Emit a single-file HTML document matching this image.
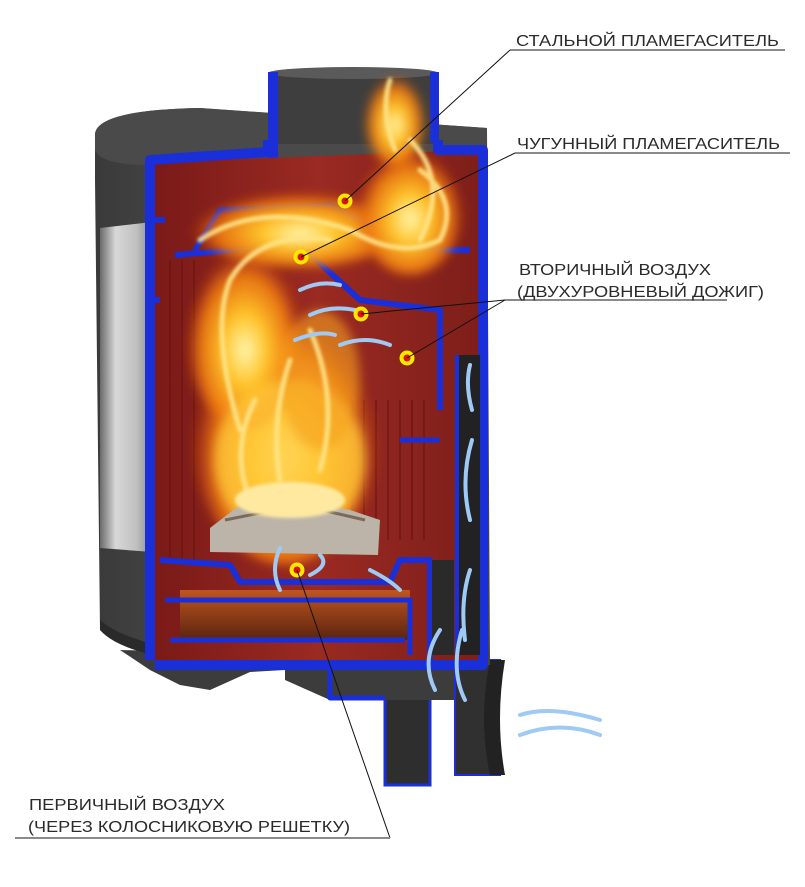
<!DOCTYPE html>
<html><head><meta charset="utf-8"><style>
html,body{margin:0;padding:0;background:#fff;}
svg{display:block;}
text{font-family:"Liberation Sans",sans-serif;font-size:15.5px;fill:#2b2b2b;}
</style></head><body>
<svg width="805" height="887" viewBox="0 0 805 887" xmlns="http://www.w3.org/2000/svg">
<defs>
<linearGradient id="body" x1="0" x2="1"><stop offset="0" stop-color="#3a3a3a"/><stop offset=".5" stop-color="#555"/><stop offset="1" stop-color="#444"/></linearGradient>
<linearGradient id="glass" x1="0" x2="1"><stop offset="0" stop-color="#6a6a6a"/><stop offset=".3" stop-color="#d8d8d8"/><stop offset=".7" stop-color="#c0c0c0"/><stop offset="1" stop-color="#8a8a8a"/></linearGradient>
<linearGradient id="red" x1="0" x2="1"><stop offset="0" stop-color="#7a1a18"/><stop offset=".5" stop-color="#9a2a22"/><stop offset="1" stop-color="#7e1e1a"/></linearGradient>
<linearGradient id="ash" x1="0" y1="0" x2="0" y2="1"><stop offset="0" stop-color="#c0561e"/><stop offset="1" stop-color="#5a2410"/></linearGradient>
<radialGradient id="fire" cx=".5" cy=".6" r=".5"><stop offset="0" stop-color="#fff6b0"/><stop offset=".35" stop-color="#ffc52a"/><stop offset=".75" stop-color="#f07a10" stop-opacity=".9"/><stop offset="1" stop-color="#d04a10" stop-opacity="0"/></radialGradient>
<filter id="bl"><feGaussianBlur stdDeviation="5"/></filter>
<filter id="bl2"><feGaussianBlur stdDeviation="1.5"/></filter>
</defs>

<!-- base pedestal -->
<path d="M285 650 L480 650 L480 700 L430 700 L430 785 L385 785 L385 700 L330 700 L285 680 Z" fill="#3c3c3c"/>
<path d="M385 700 L385 785 L430 785 L430 700" fill="#2e2e2e" stroke="#1a2fd8" stroke-width="3"/>
<path d="M455 660 L500 660 Q490 720 500 775 L455 775 Z" fill="#303030" stroke="#1a2fd8" stroke-width="2"/>
<path d="M490 660 Q478 720 490 775 L505 775 Q495 720 505 660 Z" fill="#222"/>
<path d="M120 650 L320 655 L320 668 L250 672 L210 690 L180 685 L150 670 Z" fill="#3c3c3c"/>

<!-- body -->
<path d="M95 135 Q95 110 200 108 L487 128 L490 665 L300 665 Q140 668 100 630 L95 180 Z" fill="url(#body)"/>
<path d="M95 135 Q95 110 200 108 L487 128 L487 150 L150 165 Q100 165 95 150 Z" fill="#4a4a4a"/>
<path d="M100 228 L152 222 L152 552 L100 548 Z" fill="url(#glass)"/>
<path d="M100 620 Q140 655 290 660 L290 668 Q130 665 100 630 Z" fill="#2a2a2a"/>

<!-- flue -->
<rect x="268" y="72" width="170" height="72" fill="#3e3e3e"/>
<ellipse cx="353" cy="73" rx="85" ry="6" fill="#5a5a5a"/>
<rect x="268" y="72" width="10" height="90" fill="#1a2fd8"/>
<rect x="430" y="72" width="9" height="70" fill="#1a2fd8"/>

<!-- interior -->
<path d="M155 162 L480 150 L478 660 L155 660 Z" fill="url(#red)"/>
<path d="M180 590 L410 590 L410 640 L180 640 Z" fill="url(#ash)"/>
<g stroke="#6a1410" stroke-width="2" opacity=".6">
<line x1="340" y1="400" x2="340" y2="540"/><line x1="352" y1="400" x2="352" y2="540"/><line x1="364" y1="400" x2="364" y2="540"/><line x1="376" y1="400" x2="376" y2="540"/><line x1="388" y1="400" x2="388" y2="540"/><line x1="400" y1="400" x2="400" y2="540"/><line x1="412" y1="400" x2="412" y2="540"/><line x1="424" y1="400" x2="424" y2="540"/>
<line x1="170" y1="260" x2="170" y2="560"/><line x1="182" y1="260" x2="182" y2="560"/><line x1="194" y1="260" x2="194" y2="560"/>
</g>

<!-- blue cut outline -->
<g fill="none" stroke="#1a2fd8" stroke-linejoin="round">
<path d="M150 660 L150 160 L268 152 L268 140 M438 140 L438 150 L483 150 L483 665 L155 665" stroke-width="10"/>
<path d="M195 250 L220 210 L330 205 L420 250 L470 250" stroke-width="6"/>
<path d="M175 255 L300 245 L360 300 L440 310 L440 410" stroke-width="6"/>
<path d="M160 560 L230 565 L240 582 L390 582 L400 560 L430 560 L430 660" stroke-width="6"/>
<path d="M165 600 L410 600 L410 655 M170 640 L405 640" stroke-width="5"/>
<path d="M290 665 L480 665 M330 665 L330 698 L385 698" stroke-width="5"/>
<path d="M400 440 L440 440" stroke-width="5"/>
<path d="M150 220 L165 220 M150 300 L160 300" stroke-width="6"/>
</g>
<rect x="457" y="355" width="23" height="300" fill="#222"/>
<rect x="455" y="355" width="4" height="300" fill="#1a2fd8"/>
<rect x="432" y="560" width="22" height="95" fill="#2a2a2a"/>

<!-- fire -->
<g filter="url(#bl)">
<ellipse cx="285" cy="430" rx="95" ry="135" fill="url(#fire)"/>
<ellipse cx="245" cy="330" rx="60" ry="100" fill="url(#fire)"/>
<ellipse cx="300" cy="225" rx="110" ry="42" fill="url(#fire)"/>
<ellipse cx="410" cy="205" rx="55" ry="70" fill="url(#fire)"/>
<ellipse cx="395" cy="115" rx="32" ry="50" fill="url(#fire)"/>
<ellipse cx="290" cy="460" rx="75" ry="80" fill="#ffc83a" opacity=".75"/>
<ellipse cx="320" cy="380" rx="40" ry="70" fill="#f5a020" opacity=".6"/>
</g>
<g fill="none" stroke="#ffe58a" stroke-width="5" stroke-linecap="round" filter="url(#bl2)" opacity=".9">
<path d="M240 430 Q210 330 230 280 Q260 230 330 240"/>
<path d="M200 240 Q260 200 350 230 Q400 260 440 240 Q460 200 420 170"/>
<path d="M395 150 Q380 110 390 80"/>
<path d="M280 480 Q270 420 290 360"/>
<path d="M320 470 Q340 400 310 330"/>
<path d="M250 500 Q230 450 255 400"/>
<path d="M420 240 Q450 180 410 140"/>
</g>
<!-- logs -->
<path d="M210 528 L240 505 L300 500 L350 510 L380 520 L378 555 L210 552 Z" fill="#bcb4a8"/>
<path d="M225 520 L300 505 L365 520" stroke="#7a6a5a" stroke-width="3" fill="none"/>
<ellipse cx="290" cy="500" rx="55" ry="18" fill="#ffe9a0" filter="url(#bl2)"/>

<!-- air arrows -->
<g fill="none" stroke="#9fcaf5" stroke-width="4" stroke-linecap="round">
<path d="M465 640 Q460 600 470 570"/><path d="M470 520 Q460 480 472 440"/><path d="M472 410 Q465 385 470 365"/>
<path d="M435 690 Q420 660 440 630"/><path d="M465 700 Q450 670 462 630"/>
<path d="M520 715 Q550 705 600 720"/><path d="M520 735 Q560 720 600 735"/>
<path d="M370 570 Q390 580 400 590"/><path d="M310 575 Q330 565 320 555"/><path d="M280 590 Q270 570 280 548"/>
<path d="M300 290 Q320 280 340 285"/><path d="M310 315 Q330 305 355 310"/><path d="M295 340 Q320 330 335 335"/><path d="M340 345 Q365 335 390 345"/>
</g>

<!-- dots -->
<g>
<circle cx="345" cy="201" r="7.5" fill="#ffe800"/><circle cx="345" cy="201" r="3.5" fill="#e01010"/>
<circle cx="301" cy="257" r="7.5" fill="#ffe800"/><circle cx="301" cy="257" r="3.5" fill="#e01010"/>
<circle cx="361" cy="314" r="7.5" fill="#ffe800"/><circle cx="361" cy="314" r="3.5" fill="#e01010"/>
<circle cx="407" cy="358" r="7.5" fill="#ffe800"/><circle cx="407" cy="358" r="3.5" fill="#e01010"/>
<circle cx="297" cy="570" r="7.5" fill="#ffe800"/><circle cx="297" cy="570" r="3.5" fill="#e01010"/>
</g>

<g stroke="#111" stroke-width="1" fill="none">
<line x1="510" y1="50" x2="345" y2="201"/>
<line x1="515" y1="153" x2="301" y2="257"/>
<line x1="505" y1="300" x2="361" y2="314"/>
<line x1="505" y1="300" x2="407" y2="358"/>
<line x1="390" y1="838" x2="297" y2="570"/>
</g>
<g stroke="#8a8a8a" stroke-width="2">
<line x1="510" y1="50" x2="785" y2="50"/>
<line x1="515" y1="153" x2="790" y2="153"/>
<line x1="505" y1="300" x2="727" y2="300"/>
<line x1="15" y1="838" x2="390" y2="838"/>
</g>
<text x="516" y="46" textLength="263" lengthAdjust="spacingAndGlyphs">СТАЛЬНОЙ ПЛАМЕГАСИТЕЛЬ</text>
<text x="517" y="149" textLength="263" lengthAdjust="spacingAndGlyphs">ЧУГУННЫЙ ПЛАМЕГАСИТЕЛЬ</text>
<text x="519" y="275" textLength="192" lengthAdjust="spacingAndGlyphs">ВТОРИЧНЫЙ ВОЗДУХ</text>
<text x="517" y="297" textLength="247" lengthAdjust="spacingAndGlyphs">(ДВУХУРОВНЕВЫЙ ДОЖИГ)</text>
<text x="29" y="810" textLength="196" lengthAdjust="spacingAndGlyphs">ПЕРВИЧНЫЙ ВОЗДУХ</text>
<text x="28" y="832" textLength="322" lengthAdjust="spacingAndGlyphs">(ЧЕРЕЗ КОЛОСНИКОВУЮ РЕШЕТКУ)</text>
</svg>
</body></html>
